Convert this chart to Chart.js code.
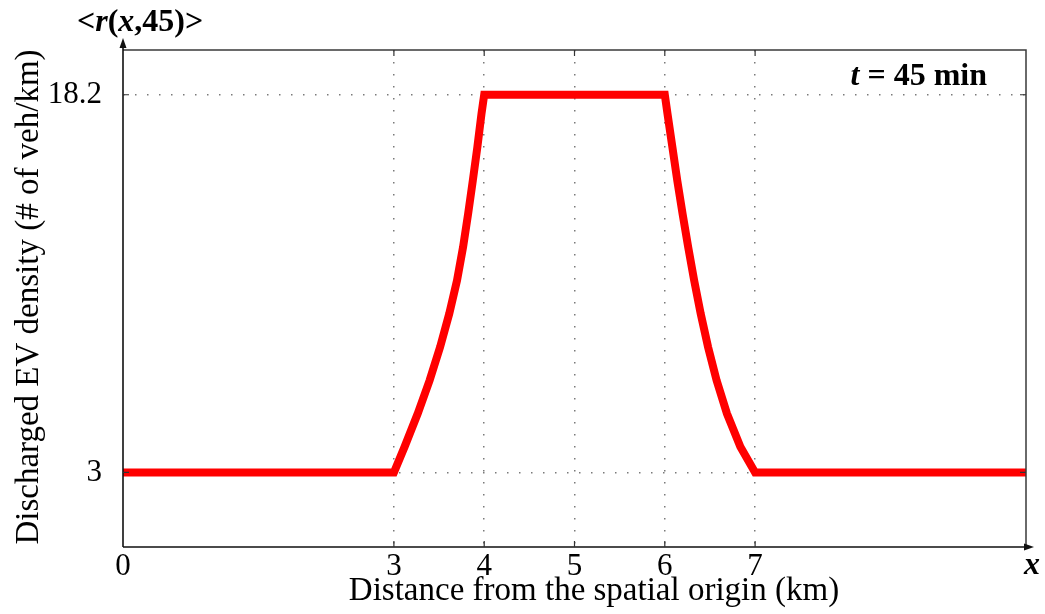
<!DOCTYPE html>
<html>
<head>
<meta charset="utf-8">
<script src="https://cdn.jsdelivr.net/npm/chart.js@4/dist/chart.umd.min.js"></script>
<style>
html,body{margin:0;padding:0;background:#fff;}
#wrap{width:1045px;height:614px;position:relative;}
</style>
</head>
<body>
<div id="wrap"><canvas id="c" width="1045" height="614"></canvas></div>
<script>
// ---- data ----
const distanceKm = [0, 3, 3.118, 3.264, 3.396, 3.512, 3.613, 3.699, 3.766, 3.822, 3.874, 3.924, 3.970, 4,
                    6, 6.03, 6.084, 6.138, 6.197, 6.259, 6.325, 6.3975, 6.479, 6.573, 6.688, 6.8365, 7, 10];
const density    = [3, 3, 4.03, 5.37, 6.71, 8.05, 9.39, 10.73, 12.07, 13.41, 14.75, 16.09, 17.43, 18.2,
                    18.2, 17.43, 16.09, 14.75, 13.41, 12.07, 10.73, 9.39, 8.05, 6.71, 5.37, 4.03, 3, 3];
const xTickValues = [0, 3, 4, 5, 6, 7];
const yTickValues = [3, 18.2];
const yTickLabels = ['3', '18.2'];
const xTitle = 'Distance from the spatial origin (km)';
const yTitle = 'Discharged EV density (# of veh/km)';
const timeLabel = '45';

const SERIF = "'Liberation Serif','Times New Roman',serif";
const points = distanceKm.map((x, i) => ({x: x, y: density[i]}));

const decor = {
  id: 'decor',
  afterDraw(chart) {
    const ctx = chart.ctx;
    const a = chart.chartArea;
    const xs = chart.scales.x, ys = chart.scales.y;
    ctx.save();
    ctx.strokeStyle = '#3a3a3a';
    ctx.lineWidth = 1.5;
    ctx.beginPath();
    ctx.moveTo(a.left, a.top); ctx.lineTo(a.right, a.top); ctx.lineTo(a.right, a.bottom);
    ctx.stroke();
    ctx.strokeStyle = '#111';
    ctx.lineWidth = 1.6;
    ctx.beginPath();
    ctx.moveTo(a.left, a.bottom); ctx.lineTo(a.right + 4, a.bottom);
    ctx.moveTo(a.left, a.bottom); ctx.lineTo(a.left, a.top - 8);
    ctx.stroke();
    ctx.fillStyle = '#111';
    ctx.beginPath();
    ctx.moveTo(a.left, a.top - 12); ctx.lineTo(a.left - 3.5, a.top - 2); ctx.lineTo(a.left + 3.5, a.top - 2);
    ctx.closePath(); ctx.fill();
    ctx.beginPath();
    ctx.moveTo(a.right + 8, a.bottom); ctx.lineTo(a.right - 2, a.bottom - 3.5); ctx.lineTo(a.right - 2, a.bottom + 3.5);
    ctx.closePath(); ctx.fill();
    ctx.strokeStyle = '#333';
    ctx.lineWidth = 1.2;
    ctx.beginPath();
    xTickValues.forEach(v => {
      if (v === 0) return;
      const px = xs.getPixelForValue(v);
      ctx.moveTo(px, a.bottom); ctx.lineTo(px, a.bottom - 6);
      ctx.moveTo(px, a.top); ctx.lineTo(px, a.top + 6);
    });
    yTickValues.forEach(v => {
      const py = ys.getPixelForValue(v);
      ctx.moveTo(a.left, py); ctx.lineTo(a.left + 6, py);
      ctx.moveTo(a.right, py); ctx.lineTo(a.right - 6, py);
    });
    ctx.stroke();

    ctx.fillStyle = '#000';
    ctx.textBaseline = 'alphabetic';
    ctx.font = '33px ' + SERIF;
    ctx.textAlign = 'center';
    ctx.fillText(xTitle, 594, 600);
    ctx.save();
    ctx.translate(38, 297);
    ctx.rotate(-Math.PI / 2);
    ctx.fillText(yTitle, 0, 0);
    ctx.restore();
    ctx.font = 'italic bold 32px ' + SERIF;
    ctx.textAlign = 'left';
    ctx.fillText('x', 1024, 574);
    const parts = [['<', 'bold'], ['r', 'italic bold'], ['(', 'bold'], ['x', 'italic bold'], [',' + timeLabel + ')>', 'bold']];
    let cx = 77;
    parts.forEach(p => {
      ctx.font = p[1] + ' 32px ' + SERIF;
      ctx.fillText(p[0], cx, 31);
      cx += ctx.measureText(p[0]).width;
    });
    const tparts = [['t', 'italic bold'], [' = ' + timeLabel + ' min', 'bold']];
    let tw = 0;
    tparts.forEach(p => { ctx.font = p[1] + ' 32px ' + SERIF; tw += ctx.measureText(p[0]).width; });
    cx = 987 - tw;
    tparts.forEach(p => {
      ctx.font = p[1] + ' 32px ' + SERIF;
      ctx.fillText(p[0], cx, 85);
      cx += ctx.measureText(p[0]).width;
    });
    ctx.restore();
  }
};

new Chart(document.getElementById('c'), {
  type: 'line',
  data: {
    datasets: [{
      data: points,
      borderColor: '#ff0000',
      borderWidth: 8,
      pointRadius: 0,
      tension: 0,
      fill: false,
      borderJoinStyle: 'miter',
      borderCapStyle: 'butt'
    }]
  },
  options: {
    responsive: false,
    animation: false,
    devicePixelRatio: 1,
    layout: {padding: {left: 0, right: 19, top: 50, bottom: 0}},
    plugins: {legend: {display: false}, tooltip: {enabled: false}},
    scales: {
      x: {
        type: 'linear',
        min: 0, max: 10,
        afterBuildTicks: s => { s.ticks = xTickValues.map(v => ({value: v})); },
        afterFit: s => { s.height = 67; },
        grid: {
          drawTicks: false,
          color: c => (c.tick && c.tick.value === 0) ? 'rgba(0,0,0,0)' : '#7a7a7a',
          lineWidth: 1.5
        },
        border: {display: false, dash: [1.5, 10.5]},
        ticks: {
          font: {family: SERIF, size: 31},
          color: '#000',
          padding: 1,
          maxRotation: 0,
          autoSkip: false,
          callback: v => String(v)
        }
      },
      y: {
        type: 'linear',
        min: 0, max: 20,
        afterBuildTicks: s => { s.ticks = yTickValues.map(v => ({value: v})); },
        afterFit: s => { s.width = 123; },
        grid: {drawTicks: false, color: '#7a7a7a', lineWidth: 1.5},
        border: {display: false, dash: [1.5, 10.5]},
        ticks: {
          font: {family: SERIF, size: 31},
          color: '#000',
          padding: 21,
          autoSkip: false,
          callback: v => yTickLabels[yTickValues.indexOf(v)]
        }
      }
    }
  },
  plugins: [decor]
});
</script>
</body>
</html>
